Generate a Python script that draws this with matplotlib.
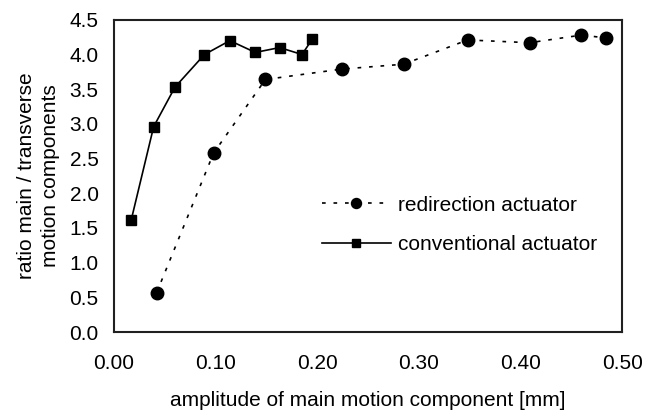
import matplotlib
matplotlib.use("Agg")
import matplotlib.pyplot as plt

plt.rcParams['font.family'] = ['Liberation Sans', 'DejaVu Sans']

# redirection actuator (circles, dotted)
redir_x = [0.042, 0.098, 0.149, 0.224, 0.285, 0.348, 0.409, 0.460, 0.484]
redir_y = [0.57, 2.58, 3.64, 3.79, 3.86, 4.21, 4.17, 4.28, 4.24]

# conventional actuator (squares, solid)
conv_x = [0.017, 0.039, 0.060, 0.089, 0.114, 0.139, 0.163, 0.185, 0.195]
conv_y = [1.62, 2.96, 3.53, 4.00, 4.20, 4.03, 4.10, 4.00, 4.22]

x_ticks = [0.0, 0.1, 0.2, 0.3, 0.4, 0.5]
y_ticks = [0.0, 0.5, 1.0, 1.5, 2.0, 2.5, 3.0, 3.5, 4.0, 4.5]

fig = plt.figure(figsize=(6.46, 4.13), dpi=100)
ax = fig.add_axes([0.1765, 0.196, 0.7865, 0.756])

ax.plot(redir_x, redir_y, color='black', linestyle=(0, (2.2, 4.7)), linewidth=1.2,
        marker='o', markersize=9, label='redirection actuator')
ax.plot(conv_x, conv_y, color='black', linestyle='-', linewidth=1.2,
        marker='s', markersize=6.5, label='conventional actuator')

ax.set_xlim(0, 0.5)
ax.set_ylim(0, 4.5)
ax.set_xticks(x_ticks)
ax.set_xticklabels(["{:.2f}".format(v) for v in x_ticks])
ax.set_yticks(y_ticks)
ax.set_yticklabels(["{:.1f}".format(v) for v in y_ticks])
ax.tick_params(length=0, labelsize=15, colors='black')
ax.tick_params(axis='y', pad=11)
ax.tick_params(axis='x', pad=16)
for s in ax.spines.values():
    s.set_linewidth(1.5)
    s.set_color('#202020')

ax.set_xlabel("amplitude of main motion component [mm]", fontsize=15, labelpad=13)
ax.set_ylabel("ratio main / transverse\nmotion components", fontsize=15,
              labelpad=7, linespacing=1.35)

ax.legend(loc='center left', bbox_to_anchor=(303 / 646, 1 - 225 / 413),
          bbox_transform=fig.transFigure, frameon=False, fontsize=15,
          handlelength=3.3, markerscale=0.8, labelspacing=1.0, handletextpad=0.34)

fig.savefig("out.png", dpi=100)
